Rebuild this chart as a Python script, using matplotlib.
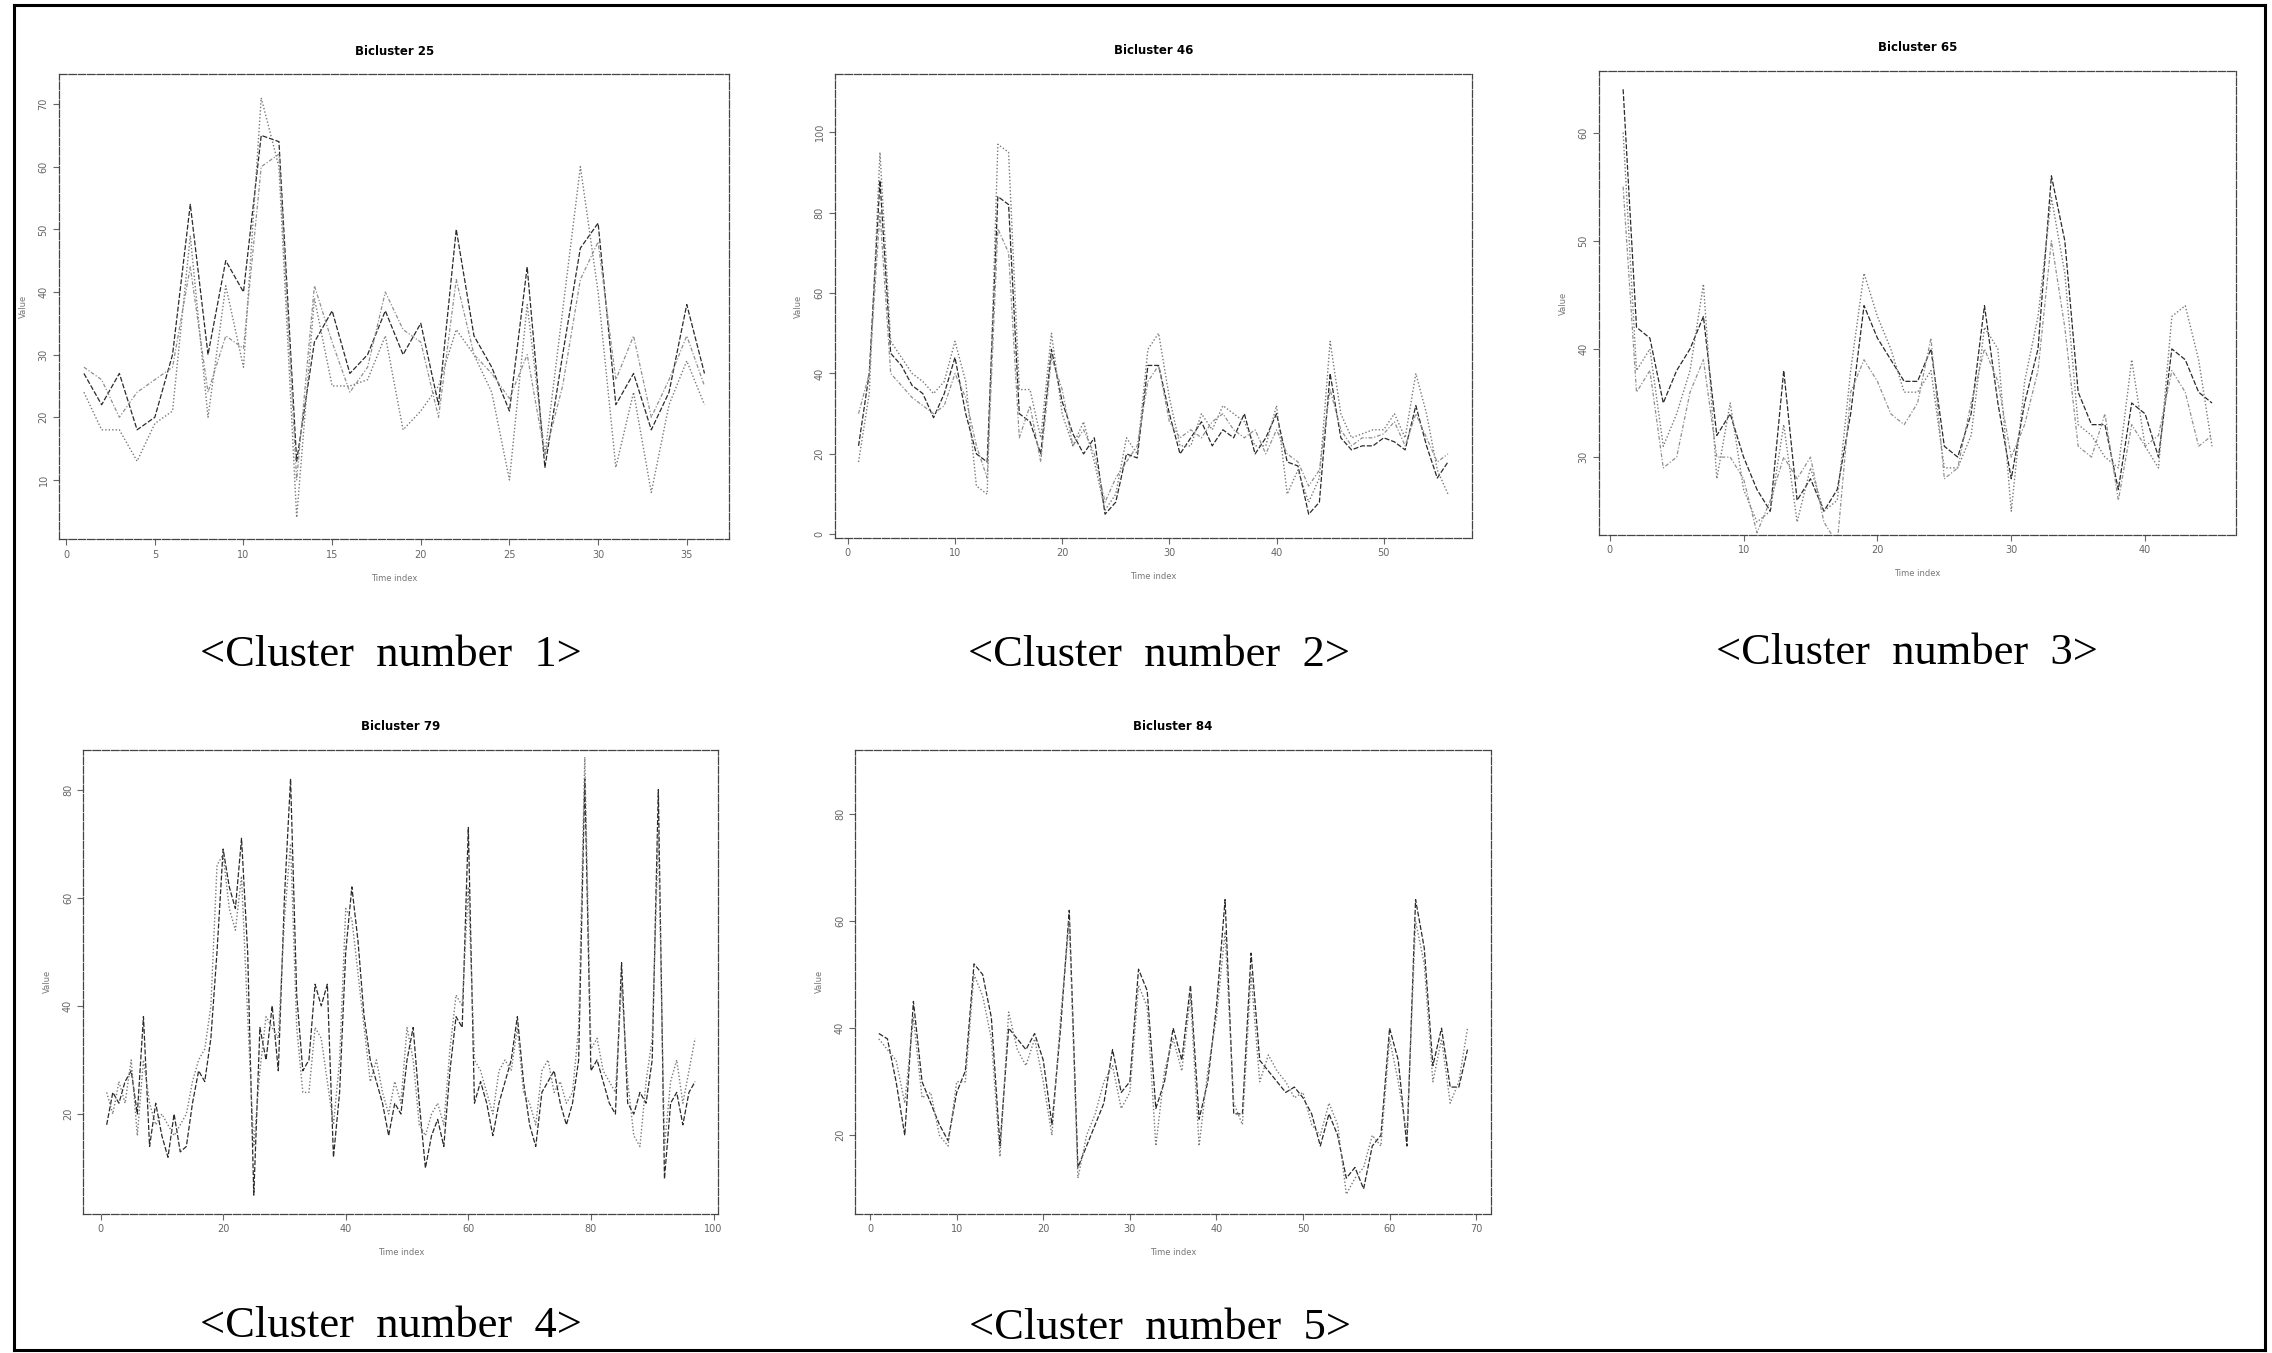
import numpy as np
import matplotlib.pyplot as plt
from matplotlib.lines import Line2D

# ---- data ----
titles = ["Bicluster 25", "Bicluster 46", "Bicluster 65", "Bicluster 79", "Bicluster 84"]
captions = ["<Cluster  number  1>", "<Cluster  number  2>", "<Cluster  number  3>",
            "<Cluster  number  4>", "<Cluster  number  5>"]

c1_a = [27, 22, 27, 18, 20, 30, 54, 30, 45, 40, 65, 64, 13, 32, 37, 27, 30, 37, 30, 35,
        22, 50, 33, 28, 21, 44, 12, 30, 47, 51, 22, 27, 18, 24, 38, 27]
c1_b = [24, 18, 18, 13, 19, 21, 49, 20, 41, 28, 71, 60, 4, 39, 25, 25, 26, 33, 18, 21,
        25, 34, 30, 24, 10, 38, 14, 37, 60, 40, 12, 24, 8, 22, 29, 22]
c1_c = [28, 26, 20, 24, 26, 28, 44, 24, 33, 31, 60, 62, 10, 41, 32, 24, 28, 40, 34, 32,
        20, 42, 30, 27, 23, 30, 14, 25, 42, 48, 26, 33, 20, 26, 33, 25]

c2_a = [22, 40, 88, 45, 42, 37, 35, 29, 35, 44, 30, 20, 18, 84, 82, 30, 28, 20, 46, 33,
        25, 20, 24, 5, 8, 20, 19, 42, 42, 30, 20, 24, 28, 22, 26, 24, 30, 20, 24, 30,
        18, 17, 5, 8, 40, 24, 21, 22, 22, 24, 23, 21, 32, 22, 14, 18]
c2_b = [18, 35, 95, 48, 44, 40, 38, 35, 38, 48, 38, 12, 10, 97, 95, 36, 36, 24, 50, 30,
        22, 28, 18, 6, 10, 24, 20, 46, 50, 34, 22, 22, 30, 26, 32, 30, 28, 22, 22, 32,
        10, 16, 8, 14, 48, 30, 24, 25, 26, 26, 30, 24, 40, 30, 16, 10]
c2_c = [30, 40, 80, 40, 37, 34, 32, 30, 32, 40, 34, 22, 14, 76, 70, 24, 32, 18, 44, 36,
        22, 26, 20, 8, 14, 18, 22, 38, 42, 28, 24, 26, 24, 28, 30, 26, 24, 26, 20, 26,
        20, 18, 12, 16, 36, 26, 22, 24, 24, 25, 28, 22, 30, 24, 18, 20]

c3_a = [64, 42, 41, 35, 38, 40, 43, 32, 34, 30, 27, 25, 38, 26, 28, 25, 27, 34, 44, 41,
        39, 37, 37, 40, 31, 30, 34, 44, 35, 28, 35, 40, 56, 50, 36, 33, 33, 27, 35, 34,
        30, 40, 39, 36, 35]
c3_b = [60, 38, 40, 31, 34, 38, 46, 28, 35, 27, 24, 25, 33, 24, 29, 25, 26, 38, 47, 43,
        40, 36, 36, 38, 29, 29, 32, 42, 40, 25, 37, 43, 54, 47, 33, 32, 30, 29, 39, 31,
        29, 43, 44, 39, 31]
c3_c = [55, 36, 38, 29, 30, 36, 39, 30, 30, 28, 23, 26, 30, 28, 30, 24, 22, 36, 39, 37,
        34, 33, 35, 41, 28, 29, 35, 40, 37, 30, 33, 38, 50, 42, 31, 30, 34, 26, 33, 31,
        32, 38, 36, 31, 32]

c4_a = [18, 24, 22, 26, 28, 20, 38, 14, 22, 16, 12, 20, 13, 14, 22, 28, 26, 34, 50, 69,
        62, 58, 71, 50, 5, 36, 30, 40, 28, 60, 82, 42, 28, 30, 44, 40, 44, 12, 24, 50,
        62, 52, 38, 30, 26, 22, 16, 22, 20, 30, 36, 22, 10, 16, 19, 14, 28, 38, 36, 73,
        22, 26, 22, 16, 22, 26, 30, 38, 26, 18, 14, 24, 26, 28, 22, 18, 22, 30, 82, 28,
        30, 26, 22, 20, 48, 22, 20, 24, 22, 30, 80, 8, 22, 24, 18, 24, 26]
c4_b = [24, 20, 26, 22, 30, 16, 30, 22, 18, 20, 18, 16, 18, 20, 26, 30, 32, 40, 66, 68,
        58, 54, 64, 38, 14, 28, 38, 36, 34, 56, 70, 36, 24, 24, 36, 34, 26, 18, 30, 58,
        56, 46, 36, 26, 30, 24, 20, 26, 22, 36, 30, 18, 16, 20, 22, 18, 32, 42, 40, 62,
        30, 28, 24, 20, 28, 30, 28, 36, 24, 22, 18, 28, 30, 24, 26, 22, 24, 36, 86, 32,
        34, 28, 26, 24, 44, 26, 16, 14, 26, 34, 72, 14, 26, 30, 22, 28, 34]

c5_a = [39, 38, 30, 20, 45, 30, 26, 22, 19, 28, 32, 52, 50, 42, 18, 40, 38, 36, 39, 34,
        22, 40, 62, 14, 18, 22, 26, 36, 28, 30, 51, 47, 25, 30, 40, 34, 48, 23, 30, 44,
        64, 24, 24, 54, 34, 32, 30, 28, 29, 27, 24, 18, 24, 20, 12, 14, 10, 18, 20, 40,
        34, 18, 64, 55, 33, 40, 29, 29, 36]
c5_b = [38, 36, 34, 26, 42, 27, 28, 20, 18, 30, 30, 50, 46, 38, 16, 43, 36, 33, 38, 30,
        20, 42, 60, 12, 20, 24, 30, 33, 25, 28, 48, 44, 18, 32, 38, 32, 46, 18, 32, 42,
        58, 26, 22, 50, 30, 35, 32, 30, 27, 28, 22, 20, 26, 22, 9, 12, 14, 20, 18, 38,
        30, 20, 60, 52, 30, 38, 26, 30, 40]

panels = [
    dict(series=[c1_a, c1_b, c1_c], xlim=(-0.4, 37.4), ylim=(0.5, 74.8),
         xticks=np.arange(0, 36, 5), yticks=np.arange(10, 71, 10)),
    dict(series=[c2_a, c2_b, c2_c], xlim=(-1.2, 58.2), ylim=(-0.9, 114.5),
         xticks=np.arange(0, 51, 10), yticks=np.arange(0, 101, 20)),
    dict(series=[c3_a, c3_b, c3_c], xlim=(-0.8, 46.8), ylim=(22.8, 65.7),
         xticks=np.arange(0, 41, 10), yticks=np.arange(30, 61, 10)),
    dict(series=[c4_a, c4_b], xlim=(-2.8, 100.8), ylim=(1.5, 87.4),
         xticks=np.arange(0, 101, 20), yticks=np.arange(20, 81, 20)),
    dict(series=[c5_a, c5_b], xlim=(-1.7, 71.7), ylim=(5.3, 92),
         xticks=np.arange(0, 71, 10), yticks=np.arange(20, 81, 20)),
]

# axes rectangles (figure fractions) and caption centres (pixels)
rects = [
    [0.026, 0.6013, 0.295, 0.344],
    [0.3675, 0.6024, 0.2802, 0.343],
    [0.7038, 0.6046, 0.2804, 0.343],
    [0.0367, 0.1027, 0.2795, 0.3433],
    [0.3765, 0.1027, 0.2797, 0.3433],
]
cap_pos = [(391, 655), (1159, 655), (1907, 653), (391, 1326), (1160, 1328)]

styles = [
    dict(color="#2a2a2a", ls=(0, (4, 1.5)), lw=0.9),
    dict(color="#787878", ls=(0, (1, 1.5)), lw=1.0),
    dict(color="#909090", ls=(0, (3, 1.5, 1, 1.5)), lw=0.9),
]

W, H = 2272, 1353
fig = plt.figure(figsize=(W / 100, H / 100), dpi=100)
fig.patch.set_facecolor("white")

for p, rect, title, cap, (cx, cy) in zip(panels, rects, titles, captions, cap_pos):
    ax = fig.add_axes(rect)
    for s, st in zip(p["series"], styles):
        x = np.arange(1, len(s) + 1)
        ax.plot(x, s, **st)
    ax.set_xlim(*p["xlim"])
    ax.set_ylim(*p["ylim"])
    ax.set_xticks(p["xticks"])
    ax.set_yticks(p["yticks"])
    ax.tick_params(labelsize=7, colors="#666666", length=4, width=0.8, direction="out")
    for lab in ax.get_yticklabels():
        lab.set_rotation(90)
        lab.set_va("center")
    for sp in ax.spines.values():
        sp.set_color("#444444")
        sp.set_linewidth(0.9)
        sp.set_linestyle((0, (6, 1.5)))
    ax.set_xlabel("Time index", fontsize=6, color="#777777", labelpad=10)
    ax.set_ylabel("Value", fontsize=6, color="#777777", labelpad=8)
    ax.set_title(title, fontsize=8.5, fontweight="bold",
                 family=["Liberation Sans Narrow", "DejaVu Sans"], pad=14)
    fig.text(cx / W, 1 - cy / H, cap, ha="center", va="center", fontsize=32,
             family=["Liberation Serif", "DejaVu Serif"])

# scanned page border
fig.add_artist(Line2D([0.0062, 0.9969], [0.9963, 0.9963], color="black", lw=2.2))
fig.add_artist(Line2D([0.0062, 0.0062], [0.0022, 0.9963], color="black", lw=2.2))
fig.add_artist(Line2D([0.9969, 0.9969], [0.0022, 0.9963], color="black", lw=2.2))
fig.add_artist(Line2D([0.0062, 0.9969], [0.0022, 0.0022], color="black", lw=2.2))

fig.savefig("out.png", dpi=100)
